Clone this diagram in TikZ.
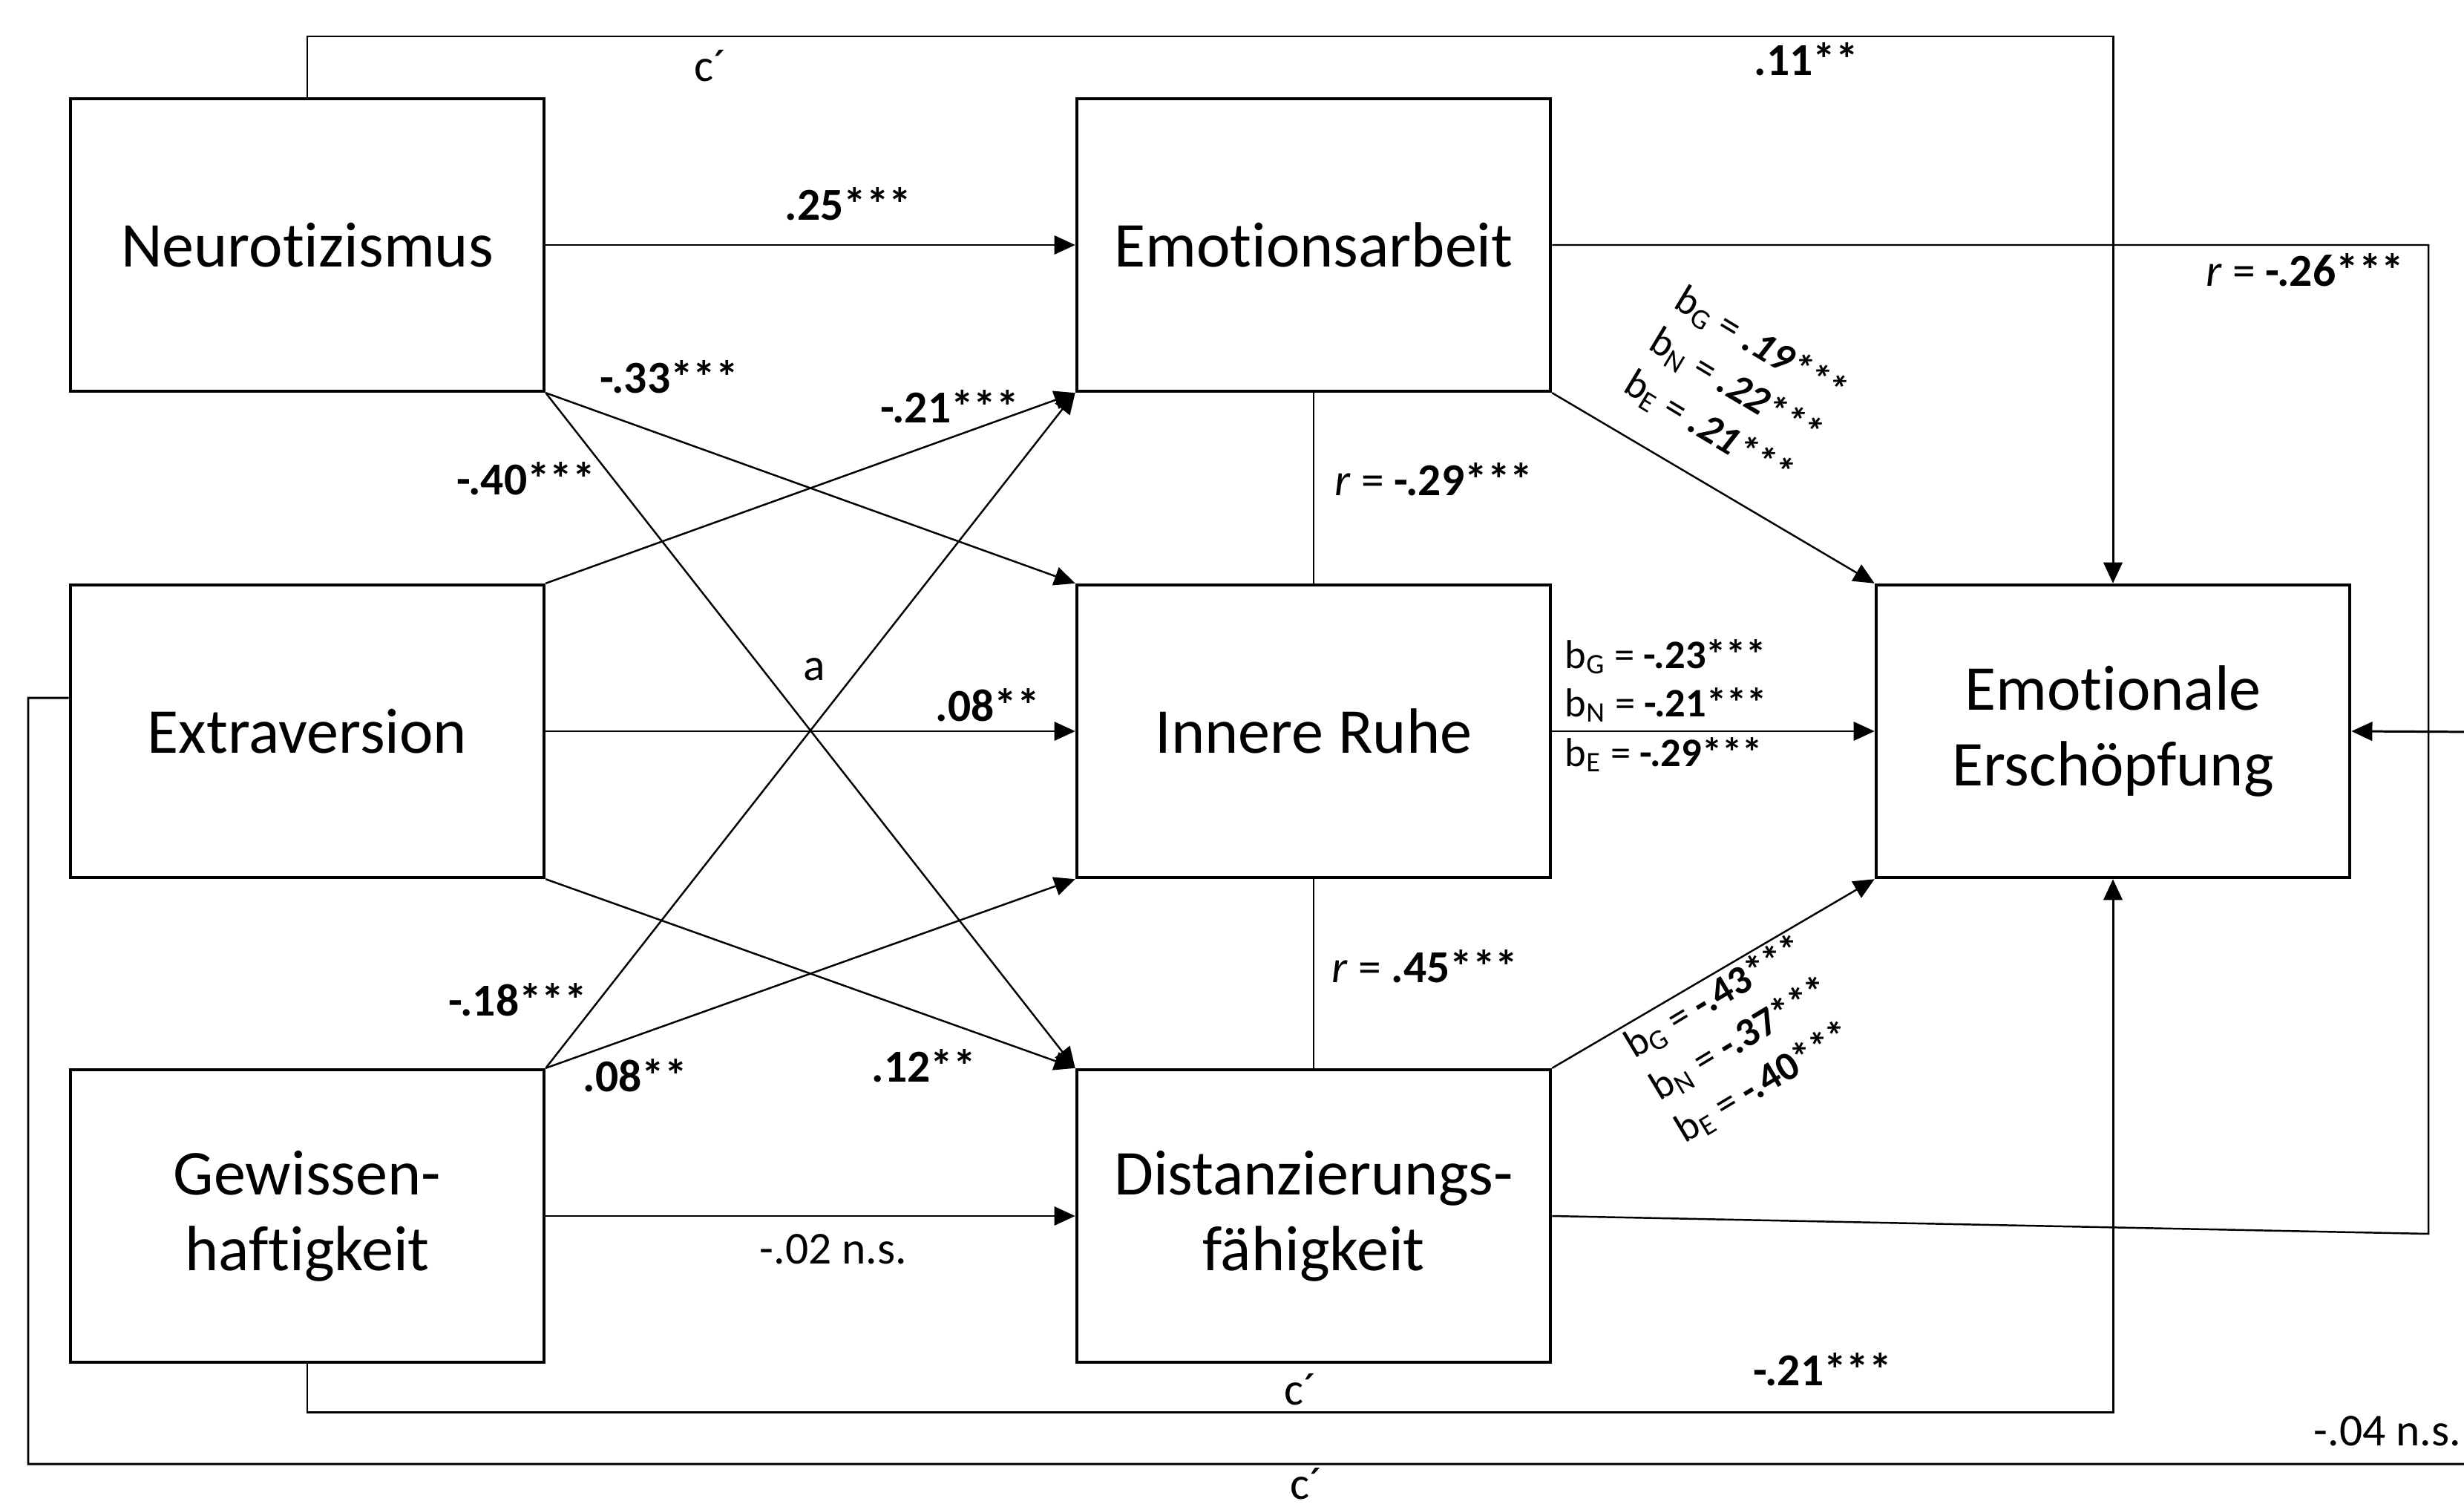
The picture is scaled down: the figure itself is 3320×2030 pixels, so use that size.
\documentclass[tikz,border=0pt]{standalone}
\usepackage{fontspec}
\setmainfont{Carlito}[Ligatures={TeX,NoCommon}]
\usetikzlibrary{arrows.meta}

\begin{document}
\begin{tikzpicture}[x=0.01cm,y=-0.01cm,
  box/.style={draw, line width=1.2pt, minimum width=6.38cm, minimum height=3.94cm,
    inner sep=0pt, align=center, font=\fontsize{24.5}{29}\selectfont},
  conn/.style={line width=0.7pt},
  loopline/.style={line width=0.85pt},
  tip/.style={-{Triangle[length=8pt,width=7.2pt]}},
  lbl/.style={inner sep=0pt, font=\fontsize{17.5}{21}\selectfont\bfseries},
  plain/.style={inner sep=0pt, font=\fontsize{17.5}{21}\selectfont},
  blbl/.style={inner sep=0pt, align=left, font=\fontsize{15.5}{18.8}\selectfont},
]
\useasboundingbox (0,0) rectangle (3320,2030);

% boxes
\node[box] (N)  at (414,330)  {Neurotizismus};
\node[box] (X)  at (414,985)  {Extraversion};
\node[box] (G)  at (414,1638) {Gewissen-\\haftigkeit};
\node[box] (EA) at (1770,330)  {Emotionsarbeit};
\node[box] (IR) at (1770,985)  {Innere Ruhe};
\node[box] (D)  at (1770,1638) {Distanzierungs-\\fähigkeit};
\node[box] (EE) at (2847,985)  {Emotionale\\Erschöpfung};

% helper coordinates for the routed lines
\coordinate (topy) at (0,49);
\coordinate (boty) at (0,1902);
\coordinate (xout) at (0,940);
\coordinate (ll1) at (38,940);
\coordinate (ll2) at (38,1972);
\coordinate (ll3) at (3345,1972);
\coordinate (ll4) at (3345,986);
\coordinate (rc1) at (3272,330);
\coordinate (rc2) at (3272,1662);

% a paths
\draw[conn,tip] (N.east) -- (EA.west);
\draw[conn,tip] (X.east) -- (IR.west);
\draw[conn,tip] (G.east) -- (D.west);
\draw[conn,tip] (N.south east) -- (IR.north west);
\draw[conn,tip] (N.south east) -- (D.north west);
\draw[conn,tip] (X.north east) -- (EA.south west);
\draw[conn,tip] (X.south east) -- (D.north west);
\draw[conn,tip] (G.north east) -- (EA.south west);
\draw[conn,tip] (G.north east) -- (IR.south west);

% b paths
\draw[conn,tip] (EA.south east) -- (EE.north west);
\draw[conn,tip] (IR.east) -- (EE.west);
\draw[conn,tip] (D.north east) -- (EE.south west);

% correlations between mediators
\draw[conn] (EA.south) -- (IR.north);
\draw[conn] (IR.south) -- (D.north);
\draw[conn] (EA.east) -- (rc1) -- (rc2) -- (D.east);

% direct effects c'
\draw[loopline,tip] (N.north) -- (N.north |- topy) -- (EE.north |- topy) -- (EE.north);
\draw[loopline,tip] (G.south) -- (G.south |- boty) -- (EE.south |- boty) -- (EE.south);
\draw[loopline,tip] (X.west |- xout) -- (ll1) -- (ll2) -- (ll3) -- (ll4) -- (EE.east);

% path coefficients
\node[lbl] at (1143,275) {.25***};
\node[lbl] at (902,508) {-.33***};
\node[lbl] at (1280,548) {-.21***};
\node[lbl] at (709,645) {-.40***};
\node[lbl] at (1331,950) {.08**};
\node[plain] at (1097,902) {a};
\node[lbl] at (698,1347) {-.18***};
\node[lbl] at (856,1449) {.08**};
\node[lbl] at (1245,1436) {.12**};
\node[plain] at (1123,1683) {-.02 n.s.};

\node[plain] at (1932,646) {\textit{r} = \textbf{-.29***}};
\node[plain] at (1920,1302) {\textit{r} = \textbf{.45***}};
\node[plain] at (3106,364) {\textit{r} = \textbf{-.26***}};

\node[blbl, rotate=-31] at (2338,523)
  {b\textsubscript{G} = \textbf{\textit{.19***}}\\
   b\textsubscript{N} = \textbf{\textit{.22***}}\\
   b\textsubscript{E} = \textbf{\textit{.21***}}};
\node[blbl, anchor=base west] at (2108,900) {b\textsubscript{G} = \textbf{-.23***}};
\node[blbl, anchor=base west] at (2108,965) {b\textsubscript{N} = \textbf{-.21***}};
\node[blbl, anchor=base west] at (2108,1032) {b\textsubscript{E} = \textbf{-.29***}};
\node[blbl, rotate=31] at (2345,1400)
  {b\textsubscript{G} = \textbf{-.43***}\\
   b\textsubscript{N} = \textbf{-.37***}\\
   b\textsubscript{E} = \textbf{-.40***}};

\node[plain] at (957,89) {c´};
\node[lbl] at (2434,80) {.11**};
\node[plain] at (1752,1872) {c´};
\node[lbl] at (2456,1845) {-.21***};
\node[plain] at (1760,1999) {c´};
\node[plain, anchor=west] at (3117,1928) {-.04 n.s.};
\end{tikzpicture}
\end{document}
